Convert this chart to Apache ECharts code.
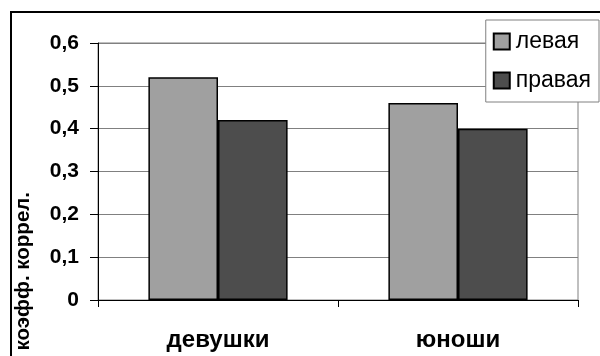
<!DOCTYPE html>
<html>
<head>
<meta charset="utf-8">
<script src="https://cdn.jsdelivr.net/npm/echarts@6/dist/echarts.min.js"></script>
<style>
  html, body { margin: 0; padding: 0; background: #fff; }
  #chart { width: 600px; height: 356px; }
</style>
</head>
<body>
<div id="chart"></div>
<script>
// Correlation coefficients, left vs right side, by group
const categories = ['девушки', 'юноши'];
const seriesNames = ['левая', 'правая'];
const leftValues = [0.52, 0.46];
const rightValues = [0.42, 0.40];
const yAxisTitle = 'коэфф. коррел.';

const FONT = '"Liberation Sans", Arial, sans-serif';

const chart = echarts.init(document.getElementById('chart'), null, { renderer: 'canvas' });

const barStyle = (color) => ({
  color: color,
  borderColor: '#000',
  borderWidth: 1.5
});

chart.setOption({
  animation: false,
  backgroundColor: '#fff',
  grid: {
    left: 98, right: 22, top: 43, bottom: 56,
    show: true,
    borderColor: '#808080',
    borderWidth: 1,
    backgroundColor: '#fff'
  },
  legend: {
    orient: 'vertical',
    right: 1,
    top: 20,
    itemWidth: 16,
    itemHeight: 16,
    itemGap: 16,
    padding: [10, 8, 10, 7],
    icon: 'rect',
    backgroundColor: '#fff',
    borderColor: '#808080',
    borderWidth: 1,
    textStyle: { fontFamily: FONT, fontSize: 23, color: '#000', padding: [0, 0, 0, 1] },
    data: seriesNames
  },
  xAxis: {
    type: 'category',
    data: categories,
    axisLine: { lineStyle: { color: '#000', width: 1 } },
    axisTick: { show: true, length: 7, lineStyle: { color: '#000' } },
    axisLabel: {
      margin: 28,
      fontFamily: FONT,
      fontWeight: 'bold',
      fontSize: 24,
      color: '#000'
    }
  },
  yAxis: {
    type: 'value',
    min: 0,
    max: 0.6,
    interval: 0.1,
    axisLine: { show: true, lineStyle: { color: '#000', width: 1 } },
    axisTick: { show: true, length: 8, lineStyle: { color: '#000' } },
    splitLine: { lineStyle: { color: '#808080', width: 1 } },
    axisLabel: {
      margin: 19,
      fontFamily: FONT,
      fontWeight: 'bold',
      fontSize: 21,
      color: '#000',
      formatter: (v) => (v === 0 ? '0' : v.toFixed(1).replace('.', ','))
    }
  },
  series: [
    {
      name: seriesNames[0],
      type: 'bar',
      data: leftValues,
      barGap: '0%',
      barCategoryGap: '42%',
      itemStyle: barStyle('#a0a0a0')
    },
    {
      name: seriesNames[1],
      type: 'bar',
      data: rightValues,
      itemStyle: barStyle('#4d4d4d')
    }
  ],
  graphic: [
    {
      type: 'rect',
      z: 100,
      shape: { x: 11, y: 12, width: 620, height: 400 },
      style: { fill: 'none', stroke: '#000', lineWidth: 2 }
    },
    {
      type: 'text',
      x: 23,
      y: 192,
      rotation: Math.PI / 2,
      style: {
        text: yAxisTitle,
        fontFamily: FONT,
        fontWeight: 'bold',
        fontSize: 20.5,
        fill: '#000',
        align: 'right',
        verticalAlign: 'middle'
      }
    }
  ]
});
</script>
</body>
</html>
